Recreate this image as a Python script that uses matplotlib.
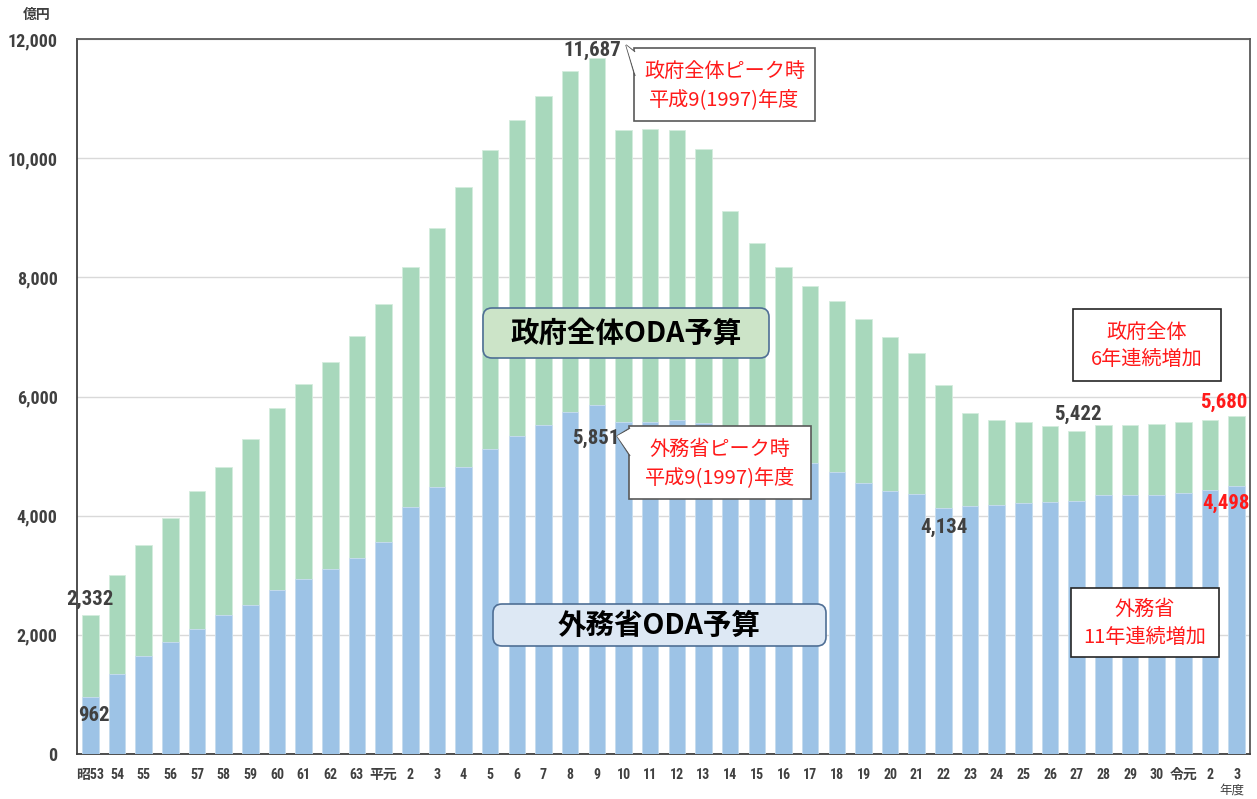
import matplotlib
matplotlib.use("Agg")
import matplotlib.pyplot as plt
from matplotlib import font_manager
from matplotlib.patches import FancyBboxPatch, Polygon, Rectangle
from matplotlib.transforms import Affine2D

# ---------------- data ----------------
years = ["昭53", "54", "55", "56", "57", "58", "59", "60", "61", "62", "63",
         "平元", "2", "3", "4", "5", "6", "7", "8", "9", "10", "11", "12", "13",
         "14", "15", "16", "17", "18", "19", "20", "21", "22", "23", "24", "25",
         "26", "27", "28", "29", "30", "令元", "2", "3"]
total_oda = [2332, 3000, 3508, 3962, 4415, 4813, 5282, 5803, 6217, 6581, 7010,
             7557, 8175, 8828, 9522, 10144, 10633, 11048, 11457, 11687, 10473, 10489,
             10466, 10152, 9106, 8578, 8169, 7862, 7597, 7293, 7002, 6722, 6187,
             5727, 5612, 5573, 5502, 5422, 5519, 5527, 5538, 5566, 5610, 5680]
mofa_oda = [962, 1348, 1645, 1880, 2093, 2328, 2503, 2753, 2943, 3106, 3296,
            3559, 4152, 4477, 4815, 5120, 5344, 5523, 5736, 5851, 5579, 5579,
            5607, 5551, 5130, 5040, 4960, 4890, 4729, 4540, 4410, 4370, 4134,
            4169, 4180, 4213, 4230, 4247, 4342, 4343, 4343, 4376, 4429, 4498]
yticks = [0, 2000, 4000, 6000, 8000, 10000, 12000]

# ---------------- fonts ----------------
avail = {f.name for f in font_manager.fontManager.ttflist}
narrow = None
for cand in ["Liberation Sans Narrow", "DejaVu Sans Condensed", "Roboto Condensed", "Liberation Sans"]:
    if cand in avail:
        narrow = cand
        break
if narrow is None:
    narrow = "DejaVu Sans"
JP = "Noto Sans CJK JP"
NUMF = [narrow, JP, "DejaVu Sans"]
plt.rcParams["font.family"] = [JP, "DejaVu Sans"]

W, H = 1257, 799
fig = plt.figure(figsize=(W / 100, H / 100), dpi=100)
# pixel transform (origin top-left)
pxT = Affine2D().scale(1 / W, -1 / H).translate(0, 1) + fig.transFigure

ax_l, ax_r, ax_t, ax_b = 77, 1250, 39, 754
ax = fig.add_axes([ax_l / W, 1 - ax_b / H, (ax_r - ax_l) / W, (ax_b - ax_t) / H])

GREEN = "#A8D8BC"
BLUE = "#9DC3E6"
x = list(range(len(years)))
bw = 0.62
ax.bar(x, total_oda, width=bw, color=GREEN, edgecolor="#D4EDDD", linewidth=0.6, zorder=2)
ax.bar(x, mofa_oda, width=bw, color=BLUE, edgecolor="#C9DDF1", linewidth=0.6, zorder=3)

ax.set_xlim(-0.5, len(years) - 0.5)
ax.set_ylim(0, 12000)
ax.set_yticks(yticks)
ax.set_yticklabels([f"{v:,}" for v in yticks], fontfamily=NUMF, fontweight="bold",
                   fontsize=13, color="#404040")
ax.set_xticks(x)
ax.set_xticklabels(years, fontfamily=NUMF, fontweight="bold", fontsize=10, color="#404040")
ax.tick_params(axis="y", length=0, pad=14)
ax.tick_params(axis="x", length=0, pad=10)
ax.yaxis.grid(True, color="#D9D9D9", linewidth=1.0, zorder=0)
ax.set_axisbelow(True)
for s in ["left", "bottom"]:
    ax.spines[s].set_color("#404040")
    ax.spines[s].set_linewidth(1.3)
for s in ["top", "right"]:
    ax.spines[s].set_color("#595959")
    ax.spines[s].set_linewidth(1.3)

# unit labels
fig.text(37, 15, "億円", transform=pxT, ha="center", va="center", fontsize=10,
         fontweight="bold", color="#404040")
fig.text(1232, 790, "年度", transform=pxT, ha="center", va="center", fontsize=9,
         color="#404040")

# ---------------- value labels ----------------
DG = "#404040"
RED = "#FF1A1A"
def vlabel(i, val, dx, dy, color=DG):
    ax.annotate(f"{val:,}", xy=(i, val), xytext=(dx * 0.72, dy * 0.72),
                textcoords="offset points", ha="center", va="center",
                fontfamily=NUMF, fontweight="bold", fontsize=15, color=color, zorder=6)

vlabel(0, total_oda[0], 0, 16)
vlabel(0, mofa_oda[0], 4, -19)
vlabel(19, total_oda[19], -5, 7)
vlabel(19, mofa_oda[19], -1.5, -33)
vlabel(32, mofa_oda[32], 1, -20)
vlabel(37, total_oda[37], 1, 17)
vlabel(43, total_oda[43], -12.5, 13, RED)
vlabel(43, mofa_oda[43], -11, -17, RED)

# ---------------- boxes ----------------
def rbox(x0, y0, x1, y1, fc, ec, text, fs):
    p = FancyBboxPatch((x0, y0), x1 - x0, y1 - y0,
                       boxstyle="round,pad=0,rounding_size=9", transform=pxT,
                       facecolor=fc, edgecolor=ec, linewidth=1.2, zorder=10)
    fig.patches.append(p)
    fig.text((x0 + x1) / 2, (y0 + y1) / 2 + 1, text, transform=pxT, ha="center", va="center",
             fontsize=fs, fontweight="bold", color="black", zorder=11)

rbox(483, 308, 769, 358, "#CCE4C8", "#4F6F95", "政府全体ODA予算", 20.5)
rbox(493, 604, 826, 646, "#DDE8F4", "#4F6F95", "外務省ODA予算", 20.5)

def sqbox(x0, y0, x1, y1, text, ec="#404040", pointer=None):
    r = Rectangle((x0, y0), x1 - x0, y1 - y0, transform=pxT, facecolor="white",
                  edgecolor=ec, linewidth=1.2, zorder=10)
    fig.patches.append(r)
    if pointer is not None:
        tip, b0, b1 = pointer
        poly = Polygon([(x0 + 1, b0), tip, (x0 + 1, b1)], closed=False, transform=pxT,
                       facecolor="white", edgecolor=ec, linewidth=1.0, zorder=11)
        fig.patches.append(poly)
        cover = Polygon([(x0 + 1.5, b0 + 1), tip, (x0 + 1.5, b1 - 1)], closed=True, transform=pxT,
                        facecolor="white", edgecolor="none", zorder=11)
        fig.patches.append(cover)
    fig.text((x0 + x1) / 2, (y0 + y1) / 2 + 1, text, transform=pxT, ha="center", va="center",
             fontsize=14.5, color=RED, linespacing=1.4, zorder=12)

sqbox(634, 48, 815, 121, "政府全体ピーク時\n平成9(1997)年度", ec="#595959",
      pointer=((626, 45), 52, 76))
sqbox(629, 426, 811, 499, "外務省ピーク時\n平成9(1997)年度", ec="#595959",
      pointer=((617, 436), 428, 456))
sqbox(1073, 309, 1221, 381, "政府全体\n6年連続増加", ec="#262626")
sqbox(1071, 588, 1219, 657, "外務省\n11年連続増加", ec="#262626")

fig.savefig("out.png", dpi=100)
